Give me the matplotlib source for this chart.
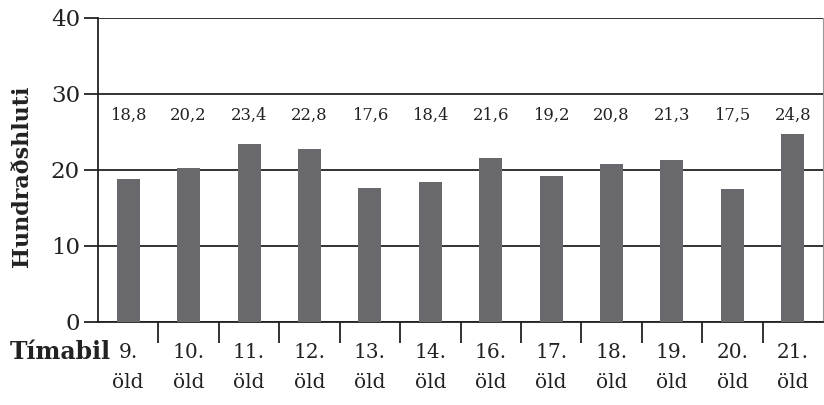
import matplotlib
matplotlib.use("Agg")
import matplotlib.pyplot as plt
import numpy as np

plt.rcParams['font.family'] = ['DejaVu Serif']

categories = ["9.\nöld", "10.\nöld", "11.\nöld", "12.\nöld", "13.\nöld", "14.\nöld",
              "16.\nöld", "17.\nöld", "18.\nöld", "19.\nöld", "20.\nöld", "21.\nöld"]
values = [18.8, 20.2, 23.4, 22.8, 17.6, 18.4, 21.6, 19.2, 20.8, 21.3, 17.5, 24.8]
value_labels = ["18,8", "20,2", "23,4", "22,8", "17,6", "18,4",
                "21,6", "19,2", "20,8", "21,3", "17,5", "24,8"]
yticks = [0, 10, 20, 30, 40]

W, H = 824, 405
fig = plt.figure(figsize=(W / 100, H / 100), dpi=100)
ax = fig.add_axes([98 / W, (H - 322) / H, (823 - 98) / W, (322 - 18) / H])

x = np.arange(len(categories))
ax.bar(x, values, width=0.38, color="#69696d", zorder=3)

for xi, lab in zip(x, value_labels):
    ax.text(xi, 27.2, lab, ha="center", va="center", fontsize=11.8, color="#222222")

ax.set_xlim(-0.5, len(categories) - 0.5)
ax.set_ylim(0, 40)

# y axis: ticks extend left and continue as gridlines
ax.set_yticks(yticks)
ax.set_yticklabels([str(t) for t in yticks], fontsize=16.5, color="#222222")
ax.tick_params(axis="y", length=10, width=1.3, color="#222222", pad=3)
ax.yaxis.grid(True, color="#222222", linewidth=1.3, zorder=1)
ax.set_axisbelow(True)

# x axis: labels centred on categories, ticks on boundaries
ax.set_xticks(x)
ax.set_xticklabels(categories, fontsize=14.5, color="#222222", linespacing=1.72)
ax.tick_params(axis="x", which="major", length=0, pad=15)
ax.set_xticks(np.arange(0.5, len(categories) - 1, 1.0), minor=True)
ax.tick_params(axis="x", which="minor", length=15, width=1.3, color="#222222")

ax.spines["top"].set_visible(False)
ax.spines["left"].set_linewidth(1.3)
ax.spines["left"].set_color("#222222")
ax.spines["bottom"].set_linewidth(1.3)
ax.spines["bottom"].set_color("#222222")
ax.spines["right"].set_linewidth(0.8)
ax.spines["right"].set_color("#999999")

fig.text(111 / W, 1 - 352 / H, "Tímabil", ha="right", va="center",
         fontsize=17, fontweight="bold", color="#222222")
fig.text(22 / W, 1 - 176 / H, "Hundraðshluti", ha="center", va="center",
         rotation=90, fontsize=16, fontweight="bold", color="#222222")

fig.savefig("out.png", dpi=100, facecolor="white")
